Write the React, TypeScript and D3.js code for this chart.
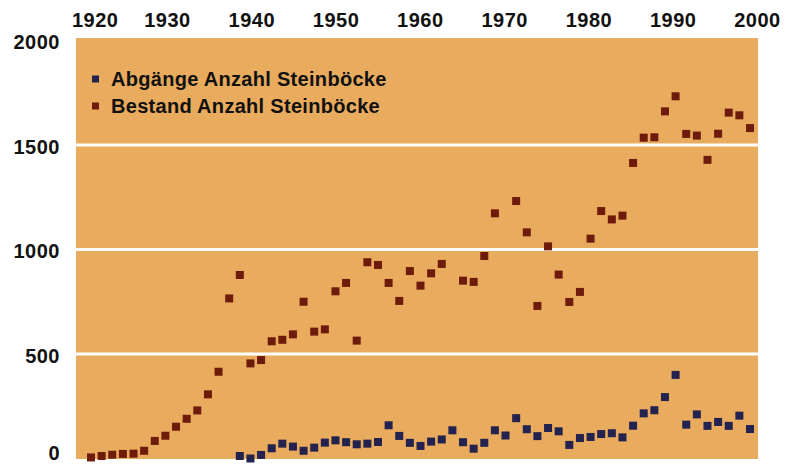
import * as d3 from "d3";
import React, { useEffect, useRef } from "react";

// Beobachtungen in gleichmässigen Abständen (wie im Original gezeichnet)
const bestand: (number | null)[] = [
  5, 12, 18, 22, 23, 37, 84, 109, 152, 190, 230, 307, 415, 766, 878, 455,
  471, 561, 568, 594, 750, 607, 618, 800, 840, 564, 939, 926, 840, 754, 897,
  827, 886, 931, null, 851, 845, 969, 1173, null, 1232, 1082, 730, 1015, 880,
  749, 797, 1052, 1184, 1144, 1162, 1414, 1535, 1537, 1661, 1733, 1553, 1545,
  1429, 1554, 1655, 1642, 1581,
];

const abgaenge: (number | null)[] = [
  null, null, null, null, null, null, null, null, null, null, null, null, null,
  null, 12, 0, 17, 49, 71, 57, 37, 52, 76, 87, 78, 68, 71, 79, 159, 108, 75,
  60, 81, 91, 135, 78, 47, 75, 135, 110, 193, 140, 107, 146, 130, 65, 98, 103,
  117, 121, 101, 157, 216, 231, 294, 400, 162, 211, 156, 175, 156, 205, 141,
];

const yearTicks = [1920, 1930, 1940, 1950, 1960, 1970, 1980, 1990, 2000];
const valueTicks = [0, 500, 1000, 1500, 2000];
const gridValues = [500, 1000, 1500];

const seriesNames = ["Abgänge Anzahl Steinböcke", "Bestand Anzahl Steinböcke"];
const seriesColors = ["#24224f", "#6e1b0b"];

const width = 793;
const height = 464;
const plot = { left: 76, right: 758, top: 38, bottom: 459 };
const font = "'Liberation Sans', Arial, Helvetica, sans-serif";

export default function App() {
  const xAxisRef = useRef<SVGGElement>(null);
  const yAxisRef = useRef<SVGGElement>(null);

  const slots = d3.range(bestand.length);
  const xSlot = d3.scalePoint<number>().domain(slots).range([91, 750]);
  const xYear = d3.scaleLinear().domain([1930, 2000]).range([167, 757]);
  const y = d3.scaleLinear().domain([0, 2000]).range([458.5, 40.5]);

  useEffect(() => {
    const xAxis = d3.axisTop(xYear)
      .tickValues(yearTicks)
      .tickFormat(d3.format("d"))
      .tickSize(0)
      .tickPadding(0);
    const gx = d3.select(xAxisRef.current);
    gx.call(xAxis);
    gx.select(".domain").remove();
    gx.selectAll("text")
      .attr("font-family", font)
      .attr("font-size", 20)
      .attr("font-weight", "bold")
      .attr("letter-spacing", 0.5)
      .attr("fill", "#111")
      .attr("dx", (d: any) => (d === 1920 ? 12 : 0));

    const yAxis = d3.axisLeft(y)
      .tickValues(valueTicks)
      .tickFormat(d3.format("d"))
      .tickSize(0)
      .tickPadding(0);
    const gy = d3.select(yAxisRef.current);
    gy.call(yAxis);
    gy.select(".domain").remove();
    gy.selectAll("text")
      .attr("font-family", font)
      .attr("font-size", 20)
      .attr("font-weight", "bold")
      .attr("letter-spacing", 0.5)
      .attr("fill", "#111")
      .attr("dy", (d: any) => (d === 0 ? "0.05em" : "0.4em"));
  }, []);

  const size = 8;

  return (
    <svg
      width={width}
      height={height}
      style={{ position: "absolute", left: 0, top: 0, background: "#fff" }}
    >
      <rect
        x={plot.left}
        y={plot.top}
        width={plot.right - plot.left}
        height={plot.bottom - plot.top}
        fill="#e9ab5d"
      />
      {gridValues.map((v) => (
        <line
          key={v}
          x1={plot.left}
          x2={plot.right}
          y1={y(v)}
          y2={y(v)}
          stroke="#fff"
          strokeWidth={3}
        />
      ))}
      <g ref={xAxisRef} transform="translate(0,27)" />
      <g ref={yAxisRef} transform="translate(60,0)" />

      {bestand.map((v, i) =>
        v === null ? null : (
          <rect
            key={"b" + i}
            x={xSlot(i)! - size / 2}
            y={y(v) - size / 2}
            width={size}
            height={size}
            fill={seriesColors[1]}
          />
        )
      )}
      {abgaenge.map((v, i) =>
        v === null ? null : (
          <rect
            key={"a" + i}
            x={xSlot(i)! - size / 2}
            y={y(v) - size / 2}
            width={size}
            height={size}
            fill={seriesColors[0]}
          />
        )
      )}

      {seriesNames.map((name, i) => (
        <g key={name} transform={`translate(92,${79 + i * 27})`}>
          <rect x={0} y={-3.5} width={7} height={7} fill={seriesColors[i]} />
          <text
            x={19}
            y={6.5}
            fontFamily={font}
            fontSize={20}
            fontWeight="bold"
            letterSpacing={0.3}
            fill="#111"
          >
            {name}
          </text>
        </g>
      ))}
    </svg>
  );
}
